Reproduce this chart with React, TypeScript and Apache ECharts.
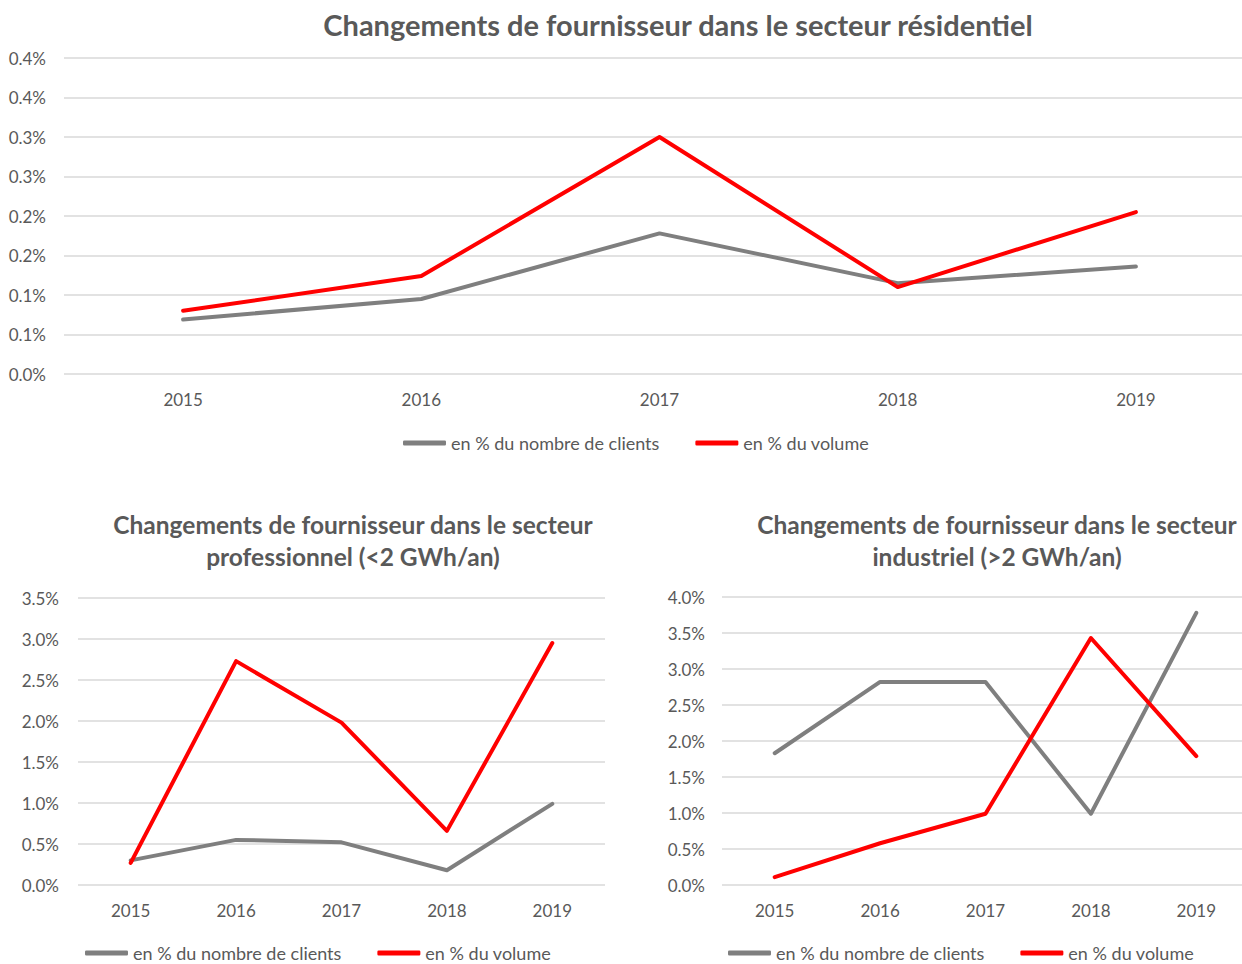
import React, { useEffect, useRef } from "react";
import * as echarts from "echarts";

const years = ["2015", "2016", "2017", "2018", "2019"];

const resClients = [0.069, 0.095, 0.178, 0.115, 0.136];
const resVolume = [0.08, 0.124, 0.3, 0.11, 0.205];

const proClients = [0.3, 0.55, 0.52, 0.18, 0.99];
const proVolume = [0.27, 2.73, 1.98, 0.66, 2.95];

const indClients = [1.83, 2.82, 2.82, 0.99, 3.78];
const indVolume = [0.11, 0.58, 0.99, 3.43, 1.79];

const topTickLabels = ["0.0%", "0.1%", "0.1%", "0.2%", "0.2%", "0.3%", "0.3%", "0.4%", "0.4%"];

const seriesNames = ["en % du nombre de clients", "en % du volume"];

const titleRes = "Changements de fournisseur dans le secteur résidentiel";
const titlePro = "Changements de fournisseur dans le secteur\nprofessionnel (<2 GWh/an)";
const titleInd = "Changements de fournisseur dans le secteur\nindustriel (>2 GWh/an)";

const GRAY = "#7f7f7f";
const RED = "#ff0000";
const TXT = "#595959";
const FONT = "Lato, 'Open Sans', sans-serif";

export default function App() {
  const ref = useRef<HTMLDivElement>(null);
  useEffect(() => {
    if (!ref.current) return;
    const chart = echarts.init(ref.current, undefined, { renderer: "svg" });

    const mkX = (gi: number) => ({
      type: "category",
      gridIndex: gi,
      data: years,
      boundaryGap: true,
      axisLine: { show: false },
      axisTick: { show: false },
      axisLabel: { color: TXT, fontSize: 17, fontFamily: FONT, margin: 17 },
    });
    const mkY = (gi: number, max: number, interval: number, fmt: (v: number) => string, margin: number) => ({
      type: "value",
      gridIndex: gi,
      min: 0,
      max,
      interval,
      axisLine: { show: false },
      axisTick: { show: false },
      splitLine: { lineStyle: { color: "#d9d9d9", width: 1.5 } },
      axisLabel: { color: TXT, fontSize: 17, fontFamily: FONT, margin, formatter: fmt },
    });
    const mkS = (gi: number, name: string, data: number[], color: string) => ({
      type: "line",
      name,
      xAxisIndex: gi,
      yAxisIndex: gi,
      data,
      symbol: "none",
      color,
      lineStyle: { color, width: 4, cap: "round", join: "round" },
    });
    const mkLegend = (left: number, top: number) => ({
      left,
      top,
      itemWidth: 43,
      itemHeight: 5,
      itemGap: 36,
      icon: "roundRect",
      textStyle: { color: TXT, fontSize: 18, fontFamily: FONT, padding: [0, 0, 0, 0] },
      data: seriesNames.map((n, i) => ({ name: n, itemStyle: { color: i === 0 ? GRAY : RED } })),
    });

    const pctFmt = (v: number) => v.toFixed(1) + "%";

    chart.setOption({
      animation: false,
      backgroundColor: "#ffffff",
      title: [
        {
          text: titleRes,
          left: 673,
          top: 5,
          textAlign: "center",
          textStyle: { color: TXT, fontSize: 29, fontWeight: "bold", fontFamily: FONT, lineHeight: 29 },
        },
        {
          text: titlePro,
          left: 348,
          top: 503,
          textAlign: "center",
          textStyle: { color: TXT, fontSize: 24.5, fontWeight: "bold", fontFamily: FONT, lineHeight: 32 },
        },
        {
          text: titleInd,
          left: 992,
          top: 503,
          textAlign: "center",
          textStyle: { color: TXT, fontSize: 24.5, fontWeight: "bold", fontFamily: FONT, lineHeight: 32 },
        },
      ],
      legend: [mkLegend(398, 429), mkLegend(80, 939), mkLegend(723, 939)],
      grid: [
        { left: 64, top: 58, width: 1191, height: 316 },
        { left: 78, top: 598, width: 527, height: 287 },
        { left: 722, top: 597, width: 527, height: 288 },
      ],
      xAxis: [mkX(0), mkX(1), mkX(2)],
      yAxis: [
        mkY(0, 0.4, 0.05, (v: number) => topTickLabels[Math.round(v / 0.05)], 18),
        mkY(1, 3.5, 0.5, pctFmt, 19),
        mkY(2, 4.0, 0.5, pctFmt, 17),
      ],
      series: [
        mkS(0, seriesNames[0], resClients, GRAY),
        mkS(0, seriesNames[1], resVolume, RED),
        mkS(1, seriesNames[0], proClients, GRAY),
        mkS(1, seriesNames[1], proVolume, RED),
        mkS(2, seriesNames[0], indClients, GRAY),
        mkS(2, seriesNames[1], indVolume, RED),
      ],
    });
    return () => chart.dispose();
  }, []);

  return (
    <div style={{ position: "absolute", left: 0, top: 0, width: 1242, height: 964, overflow: "hidden" }}>
      <div ref={ref} style={{ position: "absolute", left: 0, top: 0, width: 1300, height: 980 }} />
    </div>
  );
}
